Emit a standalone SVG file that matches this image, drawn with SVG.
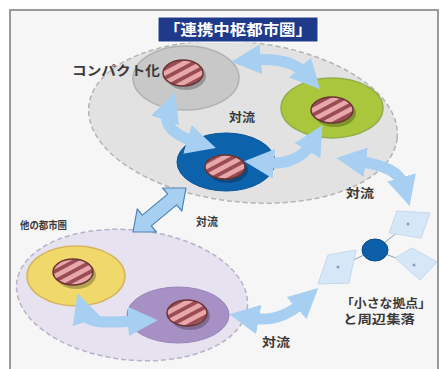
<svg xmlns="http://www.w3.org/2000/svg" width="442" height="369" viewBox="0 0 442 369">
<style>
.t{font-family:"Noto Sans CJK JP","Noto Sans CJK SC",sans-serif;fill:#3a3a3a;font-weight:bold}
.arr{fill:none;stroke:#a6cff1;stroke-width:11;marker-start:url(#ah);marker-end:url(#ah)}
.hatch{fill:url(#hp);stroke:#6a3434;stroke-width:1.5}
.sh{fill:#000;opacity:0.25}
.dia{fill:#d6e7f8;stroke:#c4d8ee;stroke-width:1}
.hl{stroke:#8aa0b8;stroke-width:1;fill:none}
</style>
<defs>
<pattern id="hp" patternUnits="userSpaceOnUse" width="8.5" height="8.5" patternTransform="rotate(-28)">
<rect width="8.5" height="8.5" fill="#e8a8aa"/>
<rect width="8.5" height="3.8" fill="#9a4c55"/>
</pattern>
<marker id="ah" viewBox="0 0 10 10" refX="3" refY="5" markerWidth="2.7" markerHeight="2.7" orient="auto-start-reverse" markerUnits="strokeWidth">
<path d="M0,0 L10,5 L0,10 z" fill="#a6cff1"/>
</marker>
</defs>
<rect x="0" y="0" width="442" height="369" fill="#ffffff"/>
<rect x="10" y="10" width="428" height="362" fill="#f6f6f6" stroke="#9a9a9a" stroke-width="2"/>

<g id="renkei-area">
<ellipse cx="243" cy="122" rx="155" ry="80" transform="rotate(6 243 122)" fill="#e2e2e2" stroke="#b4b4b4" stroke-width="1.5" stroke-dasharray="5 3"/>
</g>
<g id="other-area">
<ellipse cx="132" cy="295" rx="116" ry="65" transform="rotate(6 132 295)" fill="#e6e2ef" stroke="#b8b2c8" stroke-width="1.5" stroke-dasharray="5 3"/>
</g>

<g id="title">
<rect x="158" y="17" width="160" height="25" fill="#1f3a8a" stroke="#ffffff" stroke-width="1"/>
<text class="t" x="238" y="35" font-size="15" text-anchor="middle" style="fill:#ffffff" textLength="148" lengthAdjust="spacingAndGlyphs">「連携中枢都市圏」</text>
</g>

<g id="compact">
<ellipse cx="186" cy="78" rx="53" ry="32" fill="#c8c8c8" stroke="#b2b2b2" stroke-width="1.5"/>
<text class="t" x="72" y="75" font-size="13" textLength="88" lengthAdjust="spacingAndGlyphs">コンパクト化</text>
</g>
<g id="green-city">
<ellipse cx="332" cy="108" rx="51" ry="30" fill="#a9c63c" stroke="#93ad4e" stroke-width="1.5"/>
</g>
<g id="blue-city">
<ellipse cx="226" cy="162" rx="49" ry="29" fill="#0c62ab" stroke="#0a5596" stroke-width="1"/>
</g>
<g id="yellow-city">
<ellipse cx="76" cy="276" rx="49" ry="30" fill="#f0d86a" stroke="#d4b660" stroke-width="1.5"/>
</g>
<g id="purple-city">
<ellipse cx="178" cy="315" rx="51" ry="28" fill="#a791c4" stroke="#9884b8" stroke-width="1"/>
</g>

<g id="connectors">
<path class="arr" d="M252,60 C275,58 295,62 306,74"/>
<path class="arr" d="M168,112 C163,126 176,136 196,142"/>
<path class="arr" d="M265,163 C290,165 305,155 312,143"/>
<path class="arr" d="M357,161 C385,165 400,172 404,186"/>
<path class="arr" d="M84,313 C88,325 110,322 137,321"/>
<path class="arr" d="M250,318 C272,322 290,314 303,302"/>
<polygon points="133,232 156.4,232 151.3,225.9 176.7,204.9 181.8,211 186,188 162.6,188 167.7,194.1 142.3,215.1 137.2,209" fill="#a6cff1" stroke="#4f84b6" stroke-width="1.2" stroke-linejoin="round"/>
<line class="hl" x1="375" y1="250" x2="408" y2="224"/>
<line class="hl" x1="375" y1="250" x2="414" y2="265"/>
<line class="hl" x1="375" y1="250" x2="338" y2="267"/>
</g>

<g id="hatches">
<ellipse class="sh" cx="186" cy="76" rx="20" ry="14"/>
<ellipse class="hatch" cx="183" cy="73" rx="20" ry="13"/>
<ellipse class="sh" cx="335" cy="113" rx="21" ry="14"/>
<ellipse class="hatch" cx="332" cy="110" rx="21" ry="13"/>
<ellipse class="sh" cx="228" cy="170" rx="20" ry="13"/>
<ellipse class="hatch" cx="225" cy="167" rx="20" ry="12"/>
<ellipse class="sh" cx="76" cy="275" rx="20" ry="14"/>
<ellipse class="hatch" cx="73" cy="272" rx="20" ry="13"/>
<ellipse class="sh" cx="190" cy="316" rx="20" ry="14"/>
<ellipse class="hatch" cx="187" cy="313" rx="20" ry="13"/>
</g>

<g id="small-hub">
<polygon class="dia" points="397,211 430,213 421,238 389,233"/>
<polygon class="dia" points="395,258 412,248 437,262 420,280"/>
<polygon class="dia" points="328,255 356,250 349,283 318,284"/>
<ellipse cx="375" cy="250" rx="13" ry="11" fill="#0c5ea8" stroke="#0a4e8c" stroke-width="1"/>
<circle cx="408" cy="224" r="1.5" fill="#8aa0b8"/>
<circle cx="414" cy="265" r="1.5" fill="#8aa0b8"/>
<circle cx="338" cy="267" r="1.5" fill="#8aa0b8"/>
<text class="t" x="341" y="308" font-size="12" textLength="90" lengthAdjust="spacingAndGlyphs">「小さな拠点」</text>
<text class="t" x="343" y="324" font-size="12" textLength="72" lengthAdjust="spacingAndGlyphs">と周辺集落</text>
</g>

<g id="labels">
<text class="t" x="229" y="122" font-size="12" textLength="26" lengthAdjust="spacingAndGlyphs">対流</text>
<text class="t" x="346" y="198" font-size="12" textLength="28" lengthAdjust="spacingAndGlyphs">対流</text>
<text class="t" x="196" y="226" font-size="11" textLength="22" lengthAdjust="spacingAndGlyphs">対流</text>
<text class="t" x="20" y="229" font-size="10" textLength="47" lengthAdjust="spacingAndGlyphs">他の都市圏</text>
<text class="t" x="262" y="347" font-size="12" textLength="28" lengthAdjust="spacingAndGlyphs">対流</text>
</g>
</svg>
